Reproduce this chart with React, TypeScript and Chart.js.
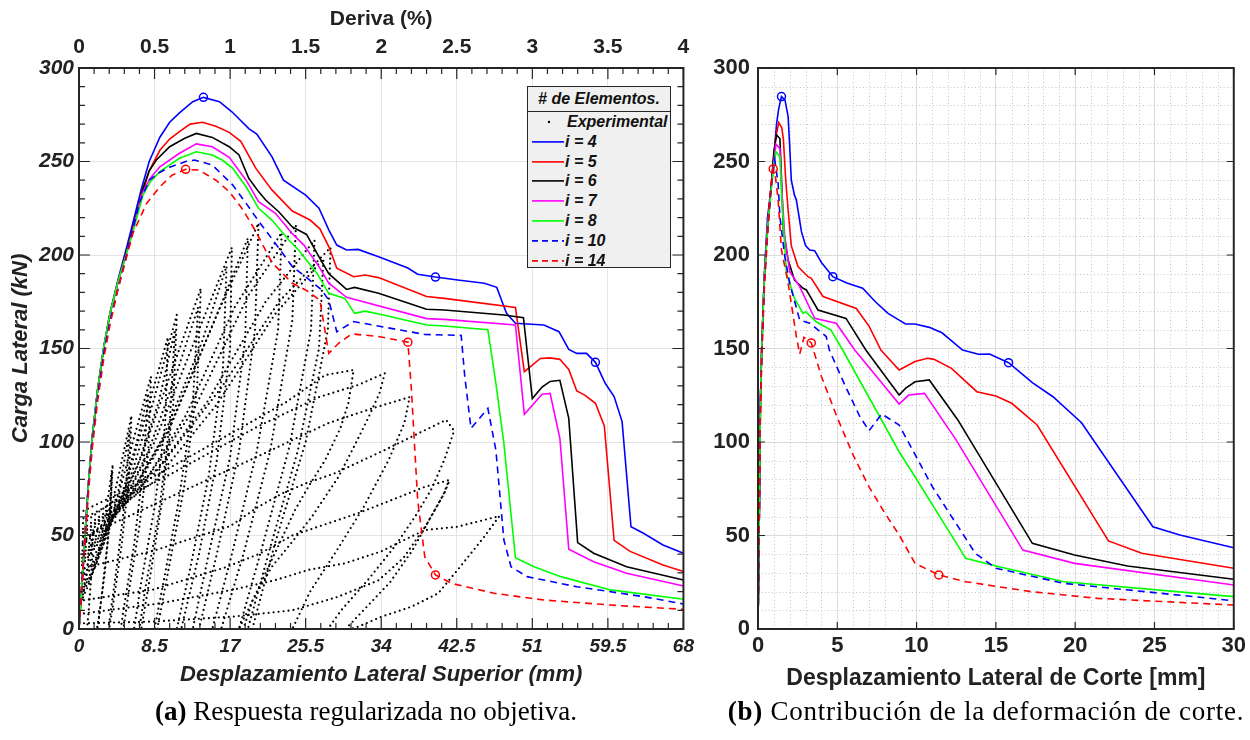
import React, { useEffect, useRef } from 'react';
import { Chart, registerables } from 'chart.js';

Chart.register(...registerables);

const FONT = '"Liberation Sans", Arial, Helvetica, sans-serif';
const SERIF = '"Liberation Serif", "Times New Roman", serif';
const INK = '#222222';

// ---------- tick labels ----------
const dispTicks = [0, 8.5, 17, 25.5, 34, 42.5, 51, 59.5, 68];
const dispTickLabels = ['0', '8.5', '17', '25.5', '34', '42.5', '51', '59.5', '68'];
const driftTicks = [0, 0.5, 1, 1.5, 2, 2.5, 3, 3.5, 4];
const driftTickLabels = ['0', '0.5', '1', '1.5', '2', '2.5', '3', '3.5', '4'];
const loadTicks = [0, 50, 100, 150, 200, 250, 300];
const loadTickLabels = ['0', '50', '100', '150', '200', '250', '300'];
const shearTicks = [0, 5, 10, 15, 20, 25, 30];
const shearTickLabels = ['0', '5', '10', '15', '20', '25', '30'];

// ---------- left chart: displacement (mm) vs load (kN) ----------
const leftI4 = [[0,0],[0.35,26],[0.7,52],[1.05,77],[1.5,103],[2.1,128],[2.8,151],[3.5,169],[4.4,187],[5.3,203],[6.1,218],[7.0,235],[7.9,250],[9.1,263],[10.2,271],[11.3,276],[12.8,282],[14.0,284.3],[15.8,282],[17.2,276.6],[19.1,267.6],[20.0,264.7],[21.7,252.6],[23.0,240],[25.5,232],[27.0,225],[28.1,213.4],[29.0,205.3],[30.1,202.7],[31.4,203],[33.7,199],[37.0,193],[38.1,189.7],[40.1,188.2],[42.6,186.6],[45.6,184.9],[47.0,182.7],[47.6,175],[48.1,168.8],[49.1,163.5],[52.3,162.6],[54.0,159],[55.1,149.5],[56.0,147.4],[57.1,147.4],[58.1,142.6],[59.2,131.4],[60.2,124.3],[61.1,110.9],[62.1,54.7],[63.5,51.2],[65.7,44.9],[68,40.5]];
const leftI5 = [[0,0],[0.35,26],[0.7,52],[1.05,77],[1.5,103],[2.1,128],[2.8,151],[3.5,169],[4.4,186],[5.3,201],[6.1,215],[7.0,231],[7.9,245],[9.1,256],[10.2,262],[11.3,266],[12.5,270],[13.9,271],[15.4,268.8],[16.9,265.6],[18.2,260.8],[19.9,246.3],[21.7,234.8],[24.0,223.5],[26.0,218.7],[27.1,214],[28.1,204.5],[29.0,192.9],[30.9,188.4],[32.2,189.3],[33.7,187.9],[39.1,177.8],[41.1,176.8],[49.1,172],[50.1,137.6],[51.9,144.7],[53.0,145],[54.1,144.2],[55.1,138.8],[56.0,127.3],[56.9,125.1],[58.1,120.7],[59.1,108.6],[60.2,47.4],[62.0,41.5],[65.7,34.2],[68,30.7]];
const leftI6 = [[0,0],[0.35,26],[0.7,52],[1.05,77],[1.5,103],[2.1,128],[2.8,151],[3.5,169],[4.4,186],[5.3,201],[6.1,215],[7.0,233],[7.9,245],[8.7,250.8],[10.2,257.9],[11.9,262.4],[13.2,265],[15.0,262.9],[16.9,257.9],[18.0,253.5],[19.1,241],[20.2,233.9],[21.0,229.4],[22.5,223],[24.0,215],[25.6,211],[27.0,199],[28.1,190],[30.1,181.6],[31.0,182.7],[33.7,179.5],[39.1,171],[41.1,170.6],[47.8,167.9],[50.0,166.5],[51.0,123.2],[52.1,129.4],[53.0,132.4],[54.1,133],[55.1,112.6],[56.1,46.2],[57.9,40.5],[61.6,33.3],[68,26.2]];
const leftI7 = [[0,0],[0.35,26],[0.7,52],[1.05,77],[1.5,103],[2.1,128],[2.8,151],[3.5,169],[4.4,186],[5.3,200],[6.1,214],[7.0,232],[8.0,241],[9.1,247.2],[11.3,254.4],[13.2,259.4],[15.0,257.9],[16.9,252.2],[18.8,240],[20.2,228.5],[22.1,222.3],[24.0,211.4],[25.3,205.3],[27.0,193.8],[28.1,184.9],[30.1,177.4],[39.1,166],[41.1,165.6],[49.1,162.6],[50.1,114.8],[52.1,125.5],[53.0,126],[54.1,102],[55.1,42.6],[57.9,36],[61.6,29.8],[68,23]];
const leftI8 = [[0,0],[0.35,26],[0.7,52],[1.05,77],[1.5,103],[2.1,128],[2.8,151],[3.5,169],[4.4,186],[5.3,200],[6.1,213],[7.2,232],[8.0,239],[9.1,244.6],[11.3,251.7],[13.2,255.2],[15.0,253.5],[16.1,250.8],[17.3,246.3],[18.8,236.5],[20.2,225],[21.7,218.7],[23.6,208],[24.7,202.7],[26.8,190],[28.1,179.5],[29.9,176.8],[31.0,168.8],[32.2,170],[34.0,168.2],[39.1,162.6],[41.1,162],[46.0,160],[46.9,131.4],[47.8,99.3],[49.1,38.1],[51.2,33.3],[54.2,28],[59.8,20.9],[68,15.9]];
const leftI10 = [[0,0],[0.35,25],[0.7,50],[1.05,75],[1.5,100],[2.1,125],[2.8,148],[3.5,165],[4.4,182],[5.5,203],[6.8,228],[7.9,240],[9.0,244],[10.2,246.9],[12.0,250],[13.0,250.8],[15.0,248.1],[17.3,237.4],[18.8,227.6],[20.2,218.2],[22.5,203.6],[24.0,193.8],[25.5,188.4],[27.3,181.3],[28.1,175.9],[29.0,159],[30.9,164.4],[38.9,157.5],[43.0,157],[43.4,135],[44.1,107.3],[46.0,118],[46.9,95.7],[47.8,47.6],[48.6,33.3],[50.4,28],[56.0,22.6],[63.5,17.3],[68,13.4]];
const leftI14 = [[0,0],[0.35,24],[0.7,48],[1.05,72],[1.5,97],[2.1,122],[2.8,145],[3.5,163],[4.4,182],[5.3,198],[6.1,212],[7.6,227.6],[9.1,236.5],[10.5,242.8],[12.0,245.8],[13.5,245.4],[15.4,240],[16.9,233.9],[18.4,224.5],[19.9,212.5],[21.7,196],[24.0,184.9],[25.5,181.3],[27.1,175.9],[28.1,147.4],[29.2,152.8],[30.7,157.8],[33.7,156.4],[37.0,153.4],[37.4,127.8],[38.1,69],[38.9,38.7],[40.1,28.9],[41.9,24.4],[46.7,19.1],[52.3,15.5],[59.8,12.8],[68,10.5]];
const leftMarksI4 = [[14.0,284.3],[40.1,188.2],[58.1,142.6]];
const leftMarksI14 = [[12.0,245.8],[37.0,153.4],[40.1,28.9]];

// experimental hysteresis (positive quadrant), one array per cycle
const expLoops = [
  [[0,8],[0.6,22],[1.1,38],[1.6,53],[1.4,30],[1.1,10],[0.9,0]],
  [[0,12],[1.2,25],[2.4,45],[3.2,68],[3.8,88],[3.5,60],[2.9,30],[2.3,8],[2.0,0]],
  [[0,16],[1.4,28],[2.8,46],[3.6,70],[3.7,84],[3.3,50],[2.6,20],[2.1,0]],
  [[0,18],[1.5,30],[3.0,52],[4.5,83],[5.9,114],[5.6,80],[4.8,45],[3.9,15],[3.4,0]],
  [[0,20],[1.8,33],[3.6,56],[4.8,82],[5.7,106],[5.2,70],[4.3,35],[3.3,0]],
  [[0,22],[2.0,38],[4.0,64],[6.0,99],[8.1,135],[7.8,95],[6.8,55],[5.6,20],[5.0,0]],
  [[0,25],[2.3,41],[4.6,68],[6.5,100],[7.8,126],[7.2,85],[6.2,45],[5.0,10],[4.7,0]],
  [[0,28],[2.5,45],[5.0,73],[7.5,114],[10.0,156],[9.7,110],[8.5,65],[7.0,25],[6.2,0]],
  [[0,32],[3.0,51],[6.0,84],[8.5,124],[11.0,168],[10.6,120],[9.4,70],[8.0,28],[7.0,0]],
  [[0,34],[3.2,53],[6.5,86],[9.0,122],[10.8,160],[10.2,110],[9.0,62],[7.4,20],[6.8,0]],
  [[0,36],[3.5,56],[7.0,92],[10.5,139],[13.7,182],[13.3,130],[11.8,75],[10.0,30],[8.8,0]],
  [[0,38],[4.0,59],[7.8,95],[11.0,137],[13.4,172],[12.8,120],[11.2,68],[9.5,25],[8.5,0]],
  [[0,40],[4.5,63],[8.5,100],[13.0,154],[17.2,204],[17.0,150],[15.5,90],[13.5,40],[11.5,0]],
  [[0,43],[5.0,65],[9.5,103],[13.8,153],[16.6,194],[16.2,140],[14.6,82],[12.5,32],[11.0,0]],
  [[0,44],[5.0,66],[10.0,106],[15.0,162],[19.0,209],[18.7,155],[17.0,92],[14.5,38],[12.8,0]],
  [[0,45],[5.5,68],[10.0,105],[15.5,168],[20.2,217],[19.8,160],[18.0,95],[15.5,40],[13.5,0]],
  [[0,48],[6.5,72],[12.0,114],[17.5,172],[22.8,212],[22.4,160],[20.0,95],[17.2,40],[15.0,0]],
  [[0,50],[7.0,76],[13.0,118],[19.0,178],[24.4,216],[24.0,165],[21.5,95],[18.5,40],[16.0,0]],
  [[0,52],[8.0,80],[14.5,122],[21.0,175],[26.5,208],[26.1,160],[23.7,98],[20.5,42],[18.0,0]],
  [[0,55],[9.0,86],[16.0,129],[22.5,175],[28.3,204],[28.0,160],[25.5,100],[22.0,45],[19.5,0]],
  [[0,50],[8.5,79],[15.5,120],[22.0,168],[27.5,198],[27.0,150],[24.6,95],[21.3,40],[19.0,0]],
  [[0,62],[9.0,83],[16.5,103],[23.2,121],[27.7,135.8],[30.9,138.5],[30.3,120.7],[29.4,107.3],[27.7,90.4],[25.8,76],[24.3,63.6],[21.5,35],[19.0,10],[18.0,0]],
  [[0,58],[10.0,82],[20.0,108],[27.0,124],[31.4,130.5],[34.4,136.7],[33.8,126],[32.6,113.5],[31.1,99],[29.2,81.4],[26.2,60],[24.0,46.7],[21.7,33.3],[19.5,15],[18.5,0]],
  [[0,48],[10.0,70],[20.0,92],[28.0,110],[33.0,118],[37.2,124],[36.6,110],[34.8,90],[32.0,65],[29.0,42],[26.0,20],[24.0,0]],
  [[0,32],[8.5,42],[17.0,55],[20.2,65.4],[22.9,72.6],[25.6,78],[28.8,83.3],[34.4,95.7],[37.8,103.7],[41.3,111.8],[42.2,106],[41.1,90.4],[39.6,74.3],[37.8,60],[35.5,44],[32.5,26.2],[29.5,10],[28.0,0]],
  [[0,15],[8.3,21],[16.5,33],[20.2,40],[24.0,50],[31.4,61.9],[35.2,69],[38.9,76],[41.7,79.7],[41.1,72.5],[39.6,60],[37.5,42],[35.0,25],[32.0,10],[30.0,0]],
  [[0,3],[8.5,4],[17.3,6.6],[24.0,10],[29.0,17],[33.7,26],[36.5,38],[39.0,55],[41.0,72],[41.5,78]],
  [[0,8],[9.1,13.7],[17.3,21],[22.0,26],[25.8,31.6],[29.9,35.1],[34.0,41.5],[36.6,47.6],[38.9,52.9],[42.6,54.7],[47.3,60.4],[45.6,49.4],[42.6,31.6],[40.4,19],[37.4,11.9],[34.0,6.5],[31.4,1.2],[30.5,0]],
];

// ---------- right chart: shear displacement (mm) vs load (kN) ----------
const rightI4 = [[0,0],[0.08,60],[0.15,120],[0.23,149],[0.4,190],[0.6,220],[0.86,238],[1.17,270],[1.3,278],[1.48,284.7],[1.7,283],[1.9,274],[2.0,258],[2.1,240],[2.3,232],[2.42,229.4],[2.74,212.5],[3.0,205],[3.26,202.7],[3.57,202.3],[4.0,196],[4.72,188.4],[5.6,185],[6.6,182.2],[7.4,175],[8.2,168.8],[8.9,165.2],[9.3,163.1],[9.9,163.1],[10.8,161.3],[11.6,158.4],[12.9,149.2],[13.9,146.9],[14.6,147],[15.8,142.4],[17.3,131.7],[18.6,124.2],[20.4,110.3],[24.9,54.7],[26.6,50.3],[30,43.5]];
const rightI5 = [[0,0],[0.08,60],[0.15,120],[0.23,149],[0.4,188],[0.6,215],[0.86,240],[1.1,262],[1.31,270.8],[1.5,268],[1.6,262],[1.75,240],[1.9,224],[2.1,205],[2.52,193.8],[3.15,188.4],[3.36,187.5],[4.1,177.8],[6.2,171.4],[7.0,162],[7.75,149.2],[8.9,138.5],[9.9,143],[10.7,144.8],[11.1,144.2],[12.2,139.4],[13.8,126.9],[15.0,124.6],[16.0,120.7],[17.6,109.1],[22.1,47.1],[24.2,40.5],[30,32.5]];
const rightI6 = [[0,0],[0.08,60],[0.15,120],[0.23,149],[0.4,188],[0.6,215],[0.86,240],[1.0,255],[1.17,264.2],[1.38,262.3],[1.45,248],[1.6,213.4],[1.9,197.3],[2.3,186.6],[2.84,182.2],[3.05,181.3],[3.78,170.6],[5.55,166.1],[6.8,149.2],[8.9,125.1],[9.3,128.7],[9.9,132.2],[10.8,133.2],[12.6,111.8],[17.3,45.8],[19.96,39.6],[23.3,33.7],[30,26.6]];
const rightI7 = [[0,0],[0.08,60],[0.15,120],[0.23,149],[0.4,188],[0.6,215],[0.86,238],[1.0,250],[1.13,259.2],[1.38,257],[1.5,235],[1.69,209.8],[2.0,191.1],[2.63,183.1],[3.57,166.1],[4.93,163.5],[6.1,149.2],[8.9,120.3],[9.5,125.1],[10.5,126],[12.5,101],[16.7,42.2],[19.96,35.1],[30,23.5]];
const rightI8 = [[0,0],[0.08,60],[0.15,120],[0.23,149],[0.4,188],[0.6,214],[0.86,237],[1.0,248],[1.13,255.2],[1.38,252.6],[1.5,230],[1.8,190.2],[2.3,176.8],[2.84,168.8],[3.0,169.7],[3.67,164.3],[4.6,159.9],[5.34,149.2],[8.9,94.8],[9.9,81.4],[13.1,37.8],[15.2,33.3],[19.3,25.3],[30,17.3]];
const rightI10 = [[0,0],[0.08,60],[0.15,118],[0.25,150],[0.4,185],[0.6,212],[0.85,238],[1.06,250.8],[1.27,238.3],[1.38,220.5],[1.69,199.1],[2.0,184.9],[2.63,165.2],[3.26,163.5],[4.3,156.4],[4.5,149.2],[5.5,130],[6.4,114],[7.0,106],[7.8,115],[8.9,109.1],[11.0,76],[13.7,40.5],[15.0,32.5],[19.3,24.4],[30,15.1]];
const rightI14 = [[0,0],[0.08,58],[0.15,115],[0.25,148],[0.4,182],[0.6,210],[0.8,236],[0.96,246],[1.1,242],[1.27,229.4],[1.48,202.7],[1.9,184.9],[2.42,156.4],[2.63,147],[2.9,156],[3.36,153],[4.0,135],[5.0,113],[6.0,93],[7.0,76],[8.0,62],[8.9,50.3],[9.9,35.1],[11.4,28.9],[13.1,25.3],[17.2,20],[21.4,16.4],[30,12.8]];
const rightMarksI4 = [[1.48,284.7],[4.72,188.4],[15.8,142.4]];
const rightMarksI14 = [[0.96,246],[3.36,153],[11.4,28.9]];

// ---------- series styles ----------
const seriesLabels = ['i = 4', 'i = 5', 'i = 6', 'i = 7', 'i = 8', 'i = 10', 'i = 14'];
const seriesColors = ['#0000ff', '#ff0000', '#000000', '#ff00ff', '#00ff00', '#0000ff', '#ff0000'];
const seriesDashed = [false, false, false, false, false, true, true];
const DASH = [7, 5];

const toXY = (arr: number[][]) => arr.map(([x, y]) => ({ x, y }));

function curveDatasets(series: number[][][], marks4: number[][], marks14: number[][]) {
  const ds: any[] = series.map((s, i) => ({
    label: seriesLabels[i],
    data: toXY(s),
    showLine: true,
    borderColor: seriesColors[i],
    backgroundColor: seriesColors[i],
    borderWidth: 1.6,
    borderDash: seriesDashed[i] ? DASH : [],
    pointRadius: 0,
    tension: 0,
    order: 20 - i,
  }));
  ds.push({
    label: 'm4', data: toXY(marks4), showLine: false, pointRadius: 4, pointStyle: 'circle',
    borderColor: '#0000ff', backgroundColor: 'rgba(0,0,0,0)', pointBorderWidth: 1.5, order: 1,
  });
  ds.push({
    label: 'm14', data: toXY(marks14), showLine: false, pointRadius: 4, pointStyle: 'circle',
    borderColor: '#ff0000', backgroundColor: 'rgba(0,0,0,0)', pointBorderWidth: 1.5, order: 0,
  });
  return ds;
}

function range(step: number, max: number, skipEvery: number) {
  const out: number[] = [];
  const n = Math.round(max / step);
  for (let i = 0; i <= n; i++) if (i % skipEvery !== 0) out.push(i * step);
  return out;
}

function framePlugin(o: any) {
  return {
    id: 'frameTicks',
    beforeDatasetsDraw(chart: any) {
      const g = o.minorGrid;
      if (!g) return;
      const { ctx, chartArea: a, scales } = chart;
      ctx.save();
      ctx.strokeStyle = '#c4c4c4';
      ctx.lineWidth = 1;
      ctx.setLineDash([1, 2.5]);
      ctx.beginPath();
      g.x.forEach((v: number) => {
        const p = Math.round(scales.x.getPixelForValue(v)) + 0.5;
        ctx.moveTo(p, a.top); ctx.lineTo(p, a.bottom);
      });
      g.y.forEach((v: number) => {
        const p = Math.round(scales.y.getPixelForValue(v)) + 0.5;
        ctx.moveTo(a.left, p); ctx.lineTo(a.right, p);
      });
      ctx.stroke();
      ctx.restore();
    },
    afterDatasetsDraw(chart: any) {
      const { ctx, chartArea: a, scales } = chart;
      ctx.save();
      ctx.strokeStyle = '#262626';
      ctx.setLineDash([]);
      ctx.lineWidth = 1.2;
      ctx.beginPath();
      const tx = (v: number, len: number) => {
        const p = scales.x.getPixelForValue(v);
        ctx.moveTo(p, a.bottom); ctx.lineTo(p, a.bottom - len);
        ctx.moveTo(p, a.top); ctx.lineTo(p, a.top + len);
      };
      const ty = (v: number, len: number) => {
        const p = scales.y.getPixelForValue(v);
        ctx.moveTo(a.left, p); ctx.lineTo(a.left + len, p);
        ctx.moveTo(a.right, p); ctx.lineTo(a.right - len, p);
      };
      o.xMinor.forEach((v: number) => tx(v, o.minorLen));
      o.yMinor.forEach((v: number) => ty(v, o.minorLen));
      o.xMajor.forEach((v: number) => tx(v, o.majorLen));
      o.yMajor.forEach((v: number) => ty(v, o.majorLen));
      ctx.stroke();
      ctx.lineWidth = 2;
      ctx.strokeRect(a.left, a.top, a.right - a.left, a.bottom - a.top);
      ctx.restore();
    },
  };
}

function fixedTicks(values: number[]) {
  return (s: any) => { s.ticks = values.map((v) => ({ value: v })); };
}

function leftConfig(): any {
  const series = [leftI4, leftI5, leftI6, leftI7, leftI8, leftI10, leftI14];
  const exp = expLoops.map((loop) => ({
    label: 'Experimental',
    data: toXY(loop),
    showLine: true,
    borderColor: '#000000',
    borderWidth: 2.2,
    borderDash: [0, 5],
    borderCapStyle: 'round',
    pointRadius: 0,
    tension: 0,
    order: 40,
  }));
  return {
    type: 'scatter',
    data: { datasets: [...exp, ...curveDatasets(series, leftMarksI4, leftMarksI14)] },
    options: {
      animation: false,
      responsive: true,
      maintainAspectRatio: false,
      events: [],
      layout: { padding: { left: 0, right: 13, top: 0, bottom: 0 } },
      plugins: { legend: { display: false }, tooltip: { enabled: false } },
      scales: {
        x: {
          type: 'linear', position: 'bottom', min: 0, max: 68,
          afterBuildTicks: fixedTicks(dispTicks),
          afterFit: (s: any) => { s.height = 71; },
          grid: { color: '#e4e4e4', lineWidth: 1, drawTicks: false },
          border: { display: false },
          ticks: {
            autoSkip: false, maxRotation: 0, padding: 6, color: INK,
            font: { family: FONT, size: 19, weight: 'bold', style: 'italic' },
            callback: (_v: any, i: number) => dispTickLabels[i],
          },
          title: {
            display: true, text: 'Desplazamiento Lateral Superior (mm)', color: INK,
            font: { family: FONT, size: 22, weight: 'bold', style: 'italic' },
            padding: { top: 0, bottom: 12 },
          },
        },
        x2: {
          type: 'linear', position: 'top', min: 0, max: 4,
          afterBuildTicks: fixedTicks(driftTicks),
          afterFit: (s: any) => { s.height = 68; },
          grid: { display: false, drawTicks: false },
          border: { display: false },
          ticks: {
            autoSkip: false, maxRotation: 0, padding: 8, color: INK,
            font: { family: FONT, size: 21, weight: 'bold' },
            callback: (_v: any, i: number) => driftTickLabels[i],
          },
          title: {
            display: true, text: 'Deriva (%)', color: INK,
            font: { family: FONT, size: 21, weight: 'bold' },
            padding: { top: 7, bottom: 0 },
          },
        },
        y: {
          type: 'linear', position: 'left', min: 0, max: 300,
          afterBuildTicks: fixedTicks(loadTicks),
          afterFit: (s: any) => { s.width = 79; },
          grid: { color: '#e4e4e4', lineWidth: 1, drawTicks: false },
          border: { display: false },
          ticks: {
            autoSkip: false, padding: 5, color: INK,
            font: { family: FONT, size: 21, weight: 'bold', style: 'italic' },
            callback: (_v: any, i: number) => loadTickLabels[i],
          },
          title: {
            display: true, text: 'Carga Lateral (kN)', color: INK,
            font: { family: FONT, size: 22, weight: 'bold', style: 'italic' },
            padding: { top: 8, bottom: 0 },
          },
        },
      },
    },
    plugins: [framePlugin({
      xMajor: dispTicks, yMajor: loadTicks,
      xMinor: range(1.7, 68, 5), yMinor: range(10, 300, 5),
      majorLen: 11, minorLen: 6,
    })],
  };
}

function rightConfig(): any {
  const series = [rightI4, rightI5, rightI6, rightI7, rightI8, rightI10, rightI14];
  return {
    type: 'scatter',
    data: { datasets: curveDatasets(series, rightMarksI4, rightMarksI14) },
    options: {
      animation: false,
      responsive: true,
      maintainAspectRatio: false,
      events: [],
      layout: { padding: { left: 0, right: 13, top: 68, bottom: 0 } },
      plugins: { legend: { display: false }, tooltip: { enabled: false } },
      scales: {
        x: {
          type: 'linear', position: 'bottom', min: 0, max: 30,
          afterBuildTicks: fixedTicks(shearTicks),
          afterFit: (s: any) => { s.height = 71; },
          grid: { color: '#dcdcdc', lineWidth: 1, drawTicks: false },
          border: { display: false },
          ticks: {
            autoSkip: false, maxRotation: 0, padding: 4, color: INK,
            font: { family: FONT, size: 22, weight: 'bold' },
            callback: (_v: any, i: number) => shearTickLabels[i],
          },
          title: {
            display: true, text: 'Desplazamiento Lateral de Corte [mm]', color: INK,
            font: { family: FONT, size: 23, weight: 'bold' },
            padding: { top: 0, bottom: 8 },
          },
        },
        y: {
          type: 'linear', position: 'left', min: 0, max: 300,
          afterBuildTicks: fixedTicks(loadTicks),
          afterFit: (s: any) => { s.width = 58; },
          grid: { color: '#dcdcdc', lineWidth: 1, drawTicks: false },
          border: { display: false },
          ticks: {
            autoSkip: false, padding: 8, color: INK,
            font: { family: FONT, size: 22, weight: 'bold' },
            callback: (_v: any, i: number) => loadTickLabels[i],
          },
        },
      },
    },
    plugins: [framePlugin({
      xMajor: shearTicks, yMajor: loadTicks, xMinor: [], yMinor: [],
      majorLen: 7, minorLen: 0,
      minorGrid: { x: range(1, 30, 5), y: range(10, 300, 5) },
    })],
  };
}

const legendRows = ['Experimental', ...seriesLabels];

function Legend() {
  const rowH = 19.8;
  return (
    <div style={{
      position: 'absolute', left: 527, top: 86, width: 144, height: 182,
      background: '#f0f0f0', border: '1px solid #262626', boxSizing: 'border-box',
      fontFamily: FONT, fontWeight: 'bold', fontStyle: 'italic', fontSize: 16, color: '#111',
    }}>
      <div style={{ height: 24, lineHeight: '24px', textAlign: 'center', borderBottom: '1px solid #262626', whiteSpace: 'nowrap' }}>
        # de Elementos.
      </div>
      {legendRows.map((lab, k) => (
        <div key={lab} style={{ position: 'absolute', left: 0, top: 25 + k * rowH, height: rowH, width: '100%' }}>
          <svg width={36} height={rowH} style={{ position: 'absolute', left: 3, top: 0 }}>
            {k === 0 ? (
              <circle cx={18} cy={rowH / 2} r={1.2} fill="#000" />
            ) : (
              <line x1={1} x2={33} y1={rowH / 2} y2={rowH / 2}
                stroke={seriesColors[k - 1]} strokeWidth={1.6}
                strokeDasharray={seriesDashed[k - 1] ? '6 4' : undefined} />
            )}
          </svg>
          <span style={{ position: 'absolute', left: k === 0 ? 39 : 37, top: 0, lineHeight: `${rowH}px`, whiteSpace: 'nowrap' }}>{lab}</span>
        </div>
      ))}
    </div>
  );
}

export default function App() {
  const leftRef = useRef<HTMLCanvasElement>(null);
  const rightRef = useRef<HTMLCanvasElement>(null);
  useEffect(() => {
    const c1 = new Chart(leftRef.current as HTMLCanvasElement, leftConfig());
    const c2 = new Chart(rightRef.current as HTMLCanvasElement, rightConfig());
    return () => { c1.destroy(); c2.destroy(); };
  }, []);
  const cap: React.CSSProperties = {
    position: 'absolute', top: 693, height: 36, lineHeight: '36px', textAlign: 'center',
    fontFamily: SERIF, fontSize: 27, color: '#000', whiteSpace: 'nowrap',
  };
  return (
    <div style={{ position: 'fixed', left: 0, top: 0, width: 1250, height: 740, background: '#fff', overflow: 'hidden' }}>
      <div style={{ position: 'absolute', left: 0, top: 0, width: 700, height: 700 }}>
        <canvas ref={leftRef} />
      </div>
      <div style={{ position: 'absolute', left: 700, top: 0, width: 550, height: 700 }}>
        <canvas ref={rightRef} />
      </div>
      <Legend />
      <div style={{ ...cap, left: 0, width: 732 }}><b>(a)</b> Respuesta regularizada no objetiva.</div>
      <div style={{ ...cap, left: 722, width: 528, letterSpacing: 0.75 }}><b>(b)</b> Contribución de la deformación de corte.</div>
    </div>
  );
}
